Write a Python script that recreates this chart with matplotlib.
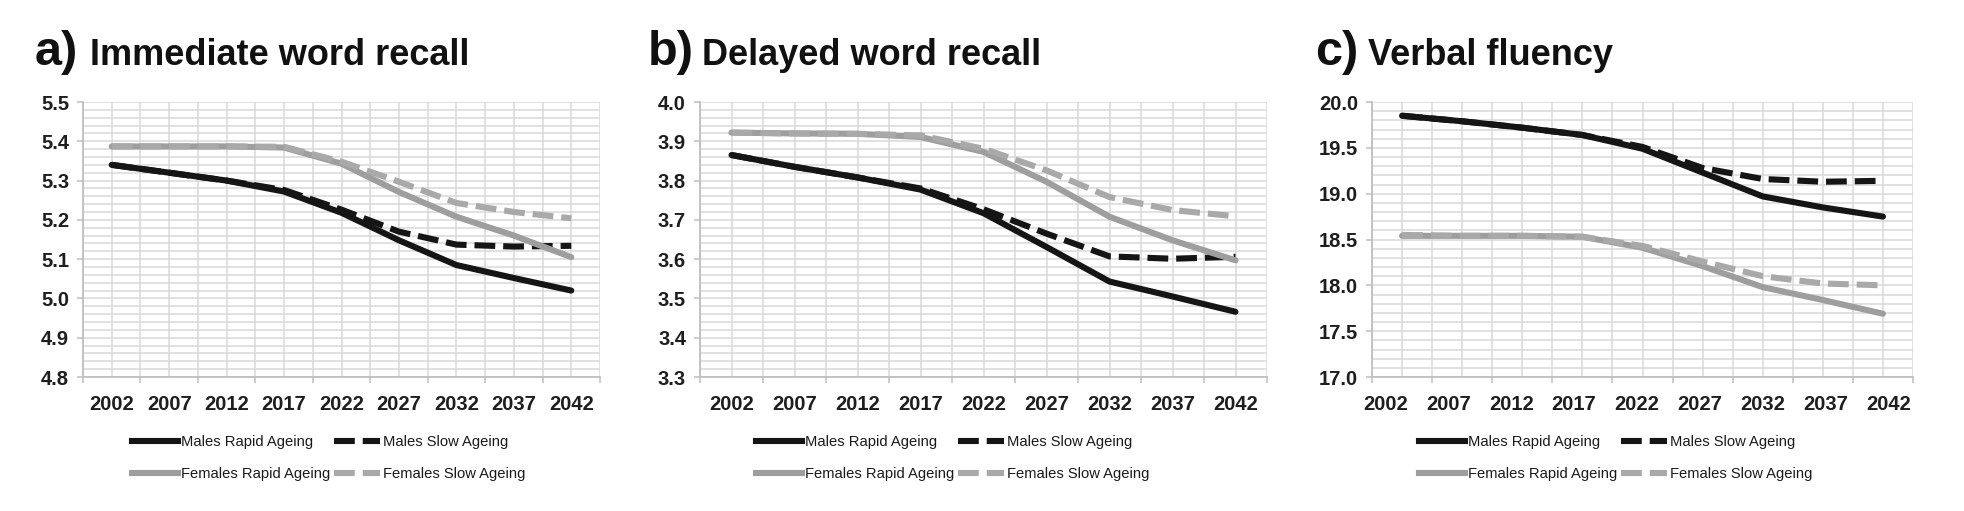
import numpy as np
import matplotlib.pyplot as plt
from matplotlib.lines import Line2D
from matplotlib.ticker import FormatStrFormatter

# Anos e séries
anos = [2002, 2007, 2012, 2017, 2022, 2027, 2032, 2037, 2042]
rotulos_anos = ['2002', '2007', '2012', '2017', '2022', '2027', '2032', '2037', '2042']
series = ['Males Rapid Ageing', 'Males Slow Ageing', 'Females Rapid Ageing', 'Females Slow Ageing']

# a) Immediate word recall
imediata_h_rapido = [5.340, 5.320, 5.300, 5.272, 5.218, 5.148, 5.085, 5.052, 5.020]
imediata_h_lento = [5.340, 5.320, 5.300, 5.276, 5.226, 5.170, 5.137, 5.132, 5.134]
imediata_m_rapido = [5.387, 5.387, 5.387, 5.384, 5.343, 5.271, 5.208, 5.160, 5.105]
imediata_m_lento = [5.387, 5.387, 5.387, 5.386, 5.348, 5.297, 5.243, 5.220, 5.204]

# b) Delayed word recall
tardia_h_rapido = [3.865, 3.835, 3.808, 3.777, 3.717, 3.631, 3.543, 3.505, 3.466]
tardia_h_lento = [3.865, 3.835, 3.808, 3.780, 3.727, 3.665, 3.607, 3.601, 3.606]
tardia_m_rapido = [3.922, 3.920, 3.919, 3.911, 3.873, 3.797, 3.708, 3.648, 3.597]
tardia_m_lento = [3.922, 3.920, 3.919, 3.915, 3.881, 3.826, 3.758, 3.725, 3.709]

# c) Verbal fluency
fluencia_h_rapido = [19.85, 19.79, 19.72, 19.64, 19.49, 19.23, 18.97, 18.85, 18.75]
fluencia_h_lento = [19.85, 19.79, 19.72, 19.64, 19.51, 19.28, 19.16, 19.13, 19.14]
fluencia_m_rapido = [18.54, 18.54, 18.54, 18.53, 18.41, 18.21, 17.98, 17.84, 17.69]
fluencia_m_lento = [18.55, 18.54, 18.54, 18.53, 18.43, 18.26, 18.10, 18.02, 18.00]

W, H = 1964, 511
fig = plt.figure(figsize=(W / 100, H / 100), dpi=100)

preto = '#151515'
cinza = '#9e9e9e'
cinza_claro = '#a9a9a9'
cor_grade = '#d9d9d9'
estilos = [
    dict(color=preto, linestyle='-'),
    dict(color=preto, linestyle=(0, (3.4, 1.3))),
    dict(color=cinza, linestyle='-'),
    dict(color=cinza_claro, linestyle=(0, (3.4, 1.3))),
]

paineis = [
    # letra, título, dados, ylim, passo, (esq, dir) px, x letra, x título, x legenda, posições dos rótulos
    ('a)', 'Immediate word recall',
     [imediata_h_rapido, imediata_h_lento, imediata_m_rapido, imediata_m_lento],
     (4.8, 5.5), 0.1, (83, 600), 35, 90, 132, anos),
    ('b)', 'Delayed word recall',
     [tardia_h_rapido, tardia_h_lento, tardia_m_rapido, tardia_m_lento],
     (3.3, 4.0), 0.1, (700, 1267), 648, 702, 756, anos),
    ('c)', 'Verbal fluency',
     [fluencia_h_rapido, fluencia_h_lento, fluencia_m_rapido, fluencia_m_lento],
     (17.0, 20.0), 0.5, (1372, 1913), 1315, 1368, 1419, np.linspace(2000.6, 2042.5, 9)),
]

topo, base = 102, 377
fonte_ticks = dict(family='Liberation Sans', weight='bold', size=14.5)

for letra, titulo, dados, ylim, passo, (x0, x1), xl, xt, xleg, pos_rot in paineis:
    ax = fig.add_axes([x0 / W, 1 - base / H, (x1 - x0) / W, (base - topo) / H])
    for valores, estilo in zip(dados, estilos):
        ax.plot(anos, valores, lw=4.4, zorder=3, solid_capstyle='round', **estilo)

    ax.set_xlim(1999.5, 2044.5)
    ax.set_ylim(*ylim)

    # grade vertical a cada 2,5 anos
    for xg in np.arange(1999.5, 2044.6, 2.5):
        ax.axvline(xg, color=cor_grade, lw=1.1, zorder=0)
    ax.set_yticks(np.arange(ylim[0], ylim[1] + 1e-6, passo))
    ax.set_yticks(np.arange(ylim[0], ylim[1] + 1e-6, passo / 5), minor=True)
    ax.yaxis.set_major_formatter(FormatStrFormatter('%.1f'))
    ax.grid(axis='y', which='both', color=cor_grade, lw=1.1, zorder=0)
    ax.set_axisbelow(True)

    ax.set_xticks(pos_rot)
    ax.set_xticklabels(rotulos_anos)
    ax.set_xticks(np.arange(1999.5, 2044.6, 5), minor=True)
    ax.tick_params(axis='x', which='major', length=0, pad=13)
    ax.tick_params(axis='x', which='minor', length=4, width=1.1, color='#bfbfbf')
    ax.tick_params(axis='y', which='major', length=4, width=1.1, color='#bfbfbf', pad=6)
    ax.tick_params(axis='y', which='minor', length=0)
    for lab in ax.get_xticklabels() + ax.get_yticklabels():
        lab.set_fontproperties(fonte_ticks)
        lab.set_color('#1e1e1e')

    for lado in ['top', 'right']:
        ax.spines[lado].set_visible(False)
    for lado in ['left', 'bottom']:
        ax.spines[lado].set_color('#bfbfbf')
        ax.spines[lado].set_linewidth(1.3)

    # títulos
    fig.text(xl / W, 1 - 65 / H, letra, family='Liberation Sans', weight='bold',
             size=35, va='baseline', ha='left', color='#111111')
    fig.text(xt / W, 1 - 65 / H, titulo, family='Liberation Sans', weight='bold',
             size=26, va='baseline', ha='left', color='#111111')

    # legenda em duas colunas
    alcas = [Line2D([], [], lw=4.4, **estilos[i]) for i in [0, 2, 1, 3]]
    nomes = [series[i] for i in [0, 2, 1, 3]]
    ax.legend(alcas, nomes, ncol=2, loc='upper left',
              bbox_to_anchor=(xleg / W, 1 - 435 / H), bbox_transform=fig.transFigure,
              frameon=False, borderpad=0, borderaxespad=0, handlelength=3.1,
              handletextpad=0.2, columnspacing=0.3, labelspacing=1.2,
              prop=dict(family='Liberation Sans', size=10.6))
    for t in ax.get_legend().get_texts():
        t.set_color('#1a1a1a')

fig.savefig('out.png', dpi=100)
